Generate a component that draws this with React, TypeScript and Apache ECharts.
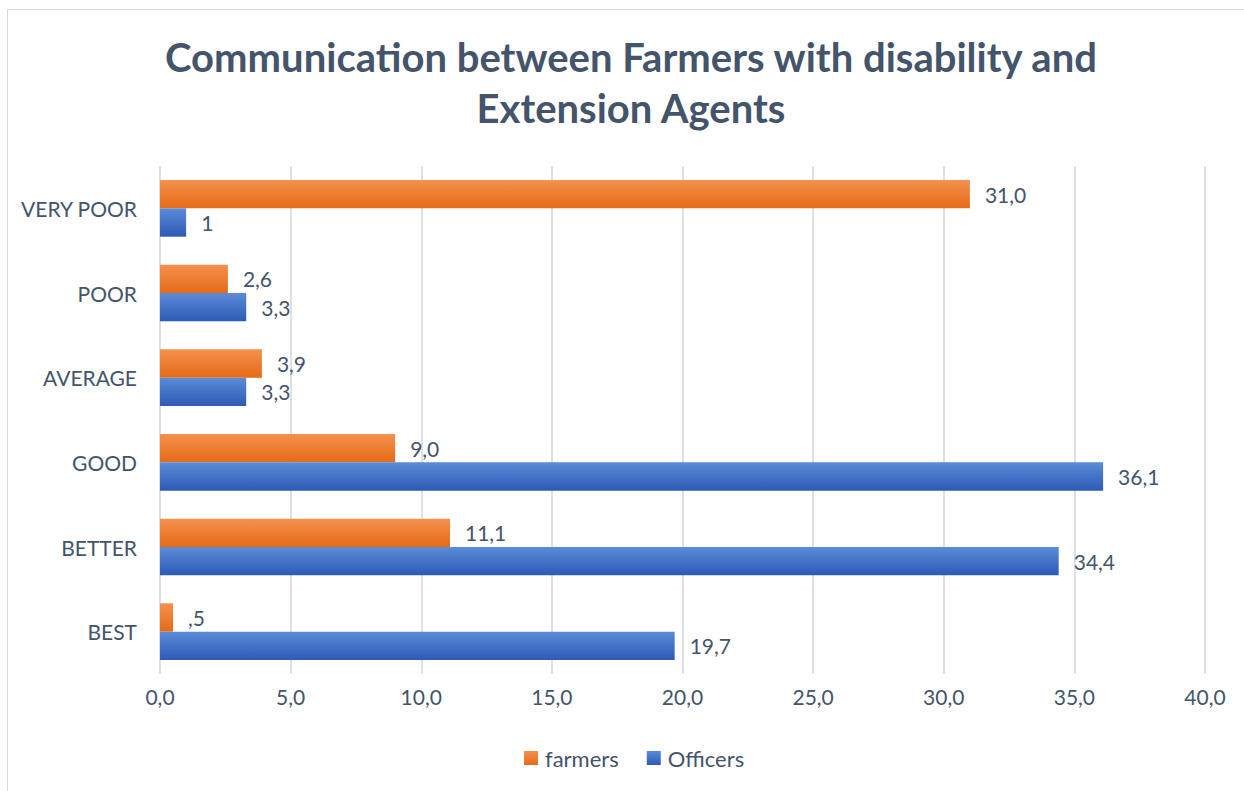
import React, { useEffect, useRef } from "react";
import * as echarts from "echarts";

const categories = ["BEST", "BETTER", "GOOD", "AVERAGE", "POOR", "VERY POOR"];
const farmersValues = [0.5, 11.1, 9.0, 3.9, 2.6, 31.0];
const officersValues = [19.7, 34.4, 36.1, 3.3, 3.3, 1];
const farmersLabels = [",5", "11,1", "9,0", "3,9", "2,6", "31,0"];
const officersLabels = ["19,7", "34,4", "36,1", "3,3", "3,3", "1"];
const xTickLabels = ["0,0", "5,0", "10,0", "15,0", "20,0", "25,0", "30,0", "35,0", "40,0"];
const titleText = "Communication between Farmers with disability and\nExtension Agents";

const FONT = "Lato, 'Noto Sans', sans-serif";
const TEXT = "#44546A";

export default function App() {
  const ref = useRef<HTMLDivElement>(null);
  useEffect(() => {
    if (!ref.current) return;
    const chart = echarts.init(ref.current, undefined, { renderer: "svg" });
    const orange = new echarts.graphic.LinearGradient(0, 0, 0, 1, [
      { offset: 0, color: "#F4914F" },
      { offset: 1, color: "#E66A16" },
    ]);
    const blue = new echarts.graphic.LinearGradient(0, 0, 0, 1, [
      { offset: 0, color: "#5B8BD8" },
      { offset: 1, color: "#2D5AB5" },
    ]);
    const label = (arr: string[]) => ({
      show: true,
      position: "right",
      distance: 15,
      fontFamily: FONT,
      fontSize: 21,
      color: TEXT,
      formatter: (p: any) => arr[p.dataIndex],
    });
    chart.setOption({
      animation: false,
      backgroundColor: "#fff",
      textStyle: { fontFamily: FONT },
      graphic: [
        {
          type: "rect",
          shape: { x: 7.5, y: 9.5, width: 1300, height: 900 },
          style: { fill: "none", stroke: "#D9D9D9", lineWidth: 1 },
          silent: true,
        },
        {
          type: "text",
          x: 631,
          y: 31,
          silent: true,
          style: {
            text: titleText,
            fontFamily: FONT,
            fontSize: 40,
            fontWeight: "bold",
            fill: TEXT,
            lineHeight: 51,
            align: "center",
            verticalAlign: "top",
          },
        },
      ],
      legend: {
        data: ["farmers", "Officers"],
        top: 742,
        left: 519,
        itemWidth: 14,
        itemHeight: 14,
        itemGap: 28,
        icon: "rect",
        textStyle: { fontFamily: FONT, fontSize: 22, color: TEXT, padding: [0, 0, 0, 2] },
      },
      grid: { left: 160, right: 39, top: 166, bottom: 117, containLabel: false },
      xAxis: {
        type: "value",
        min: 0,
        max: 40,
        interval: 5,
        axisLine: { show: false },
        axisTick: { show: false },
        axisLabel: {
          fontFamily: FONT,
          fontSize: 21,
          color: TEXT,
          margin: 12,
          formatter: (v: number) => xTickLabels[Math.round(v / 5)] ?? "",
        },
        splitLine: { show: true, lineStyle: { color: "#DDE1E6", width: 2 } },
      },
      yAxis: {
        type: "category",
        data: categories,
        axisLine: { show: false },
        axisTick: { show: false },
        axisLabel: { fontFamily: FONT, fontSize: 21, color: TEXT, margin: 23 },
      },
      series: [
        {
          name: "farmers",
          type: "bar",
          data: farmersValues,
          barGap: "0%",
          barCategoryGap: "33%",
          itemStyle: { color: orange },
          label: label(farmersLabels),
        },
        {
          name: "Officers",
          type: "bar",
          data: officersValues,
          barGap: "0%",
          barCategoryGap: "33%",
          itemStyle: { color: blue },
          label: label(officersLabels),
        },
      ],
    });
    return () => chart.dispose();
  }, []);
  return (
    <div
      ref={ref}
      style={{ position: "absolute", left: 0, top: 0, width: 1244, height: 791 }}
    />
  );
}
